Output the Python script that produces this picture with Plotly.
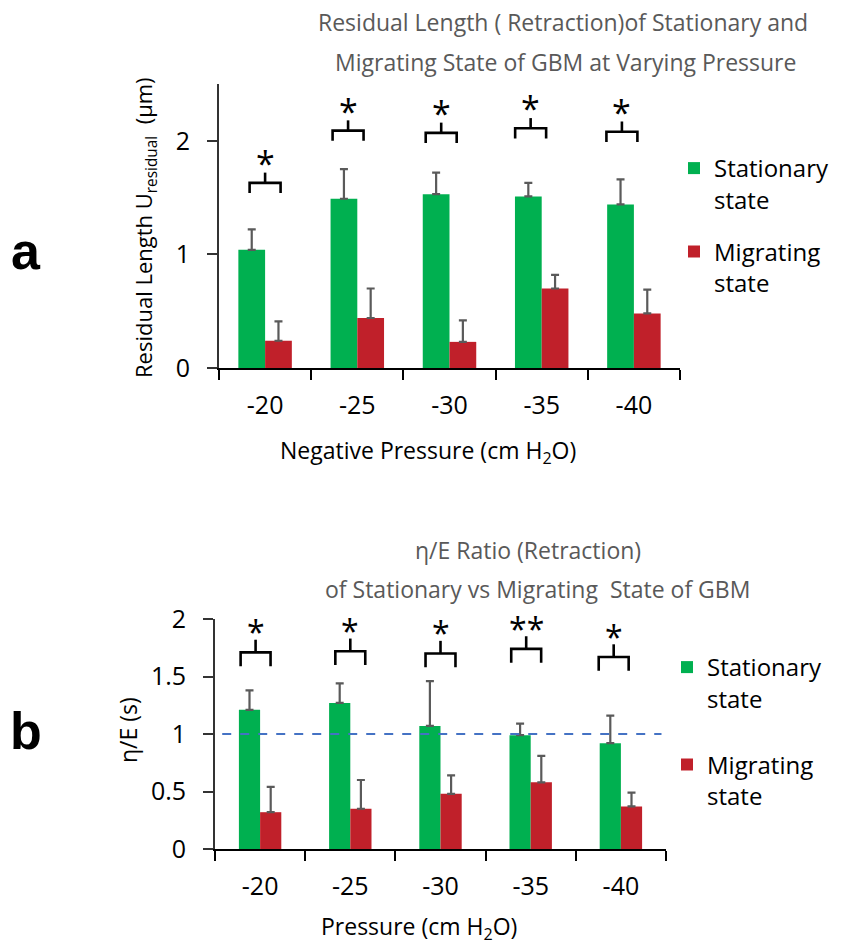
import plotly.graph_objects as go

# ---------------- data ----------------
pressures = ["-20", "-25", "-30", "-35", "-40"]

# panel a: residual length (um)
a_stat = [1.04, 1.49, 1.53, 1.51, 1.44]
a_stat_err = [0.18, 0.26, 0.19, 0.12, 0.22]
a_mig = [0.24, 0.44, 0.23, 0.70, 0.48]
a_mig_err = [0.17, 0.26, 0.19, 0.12, 0.21]
a_sig = ["*", "*", "*", "*", "*"]
a_sig_level = [1.63, 2.09, 2.07, 2.11, 2.08]
a_sig_shift = [0.0, -0.10, -0.09, -0.12, -0.13]

# panel b: eta/E ratio (s)
b_stat = [1.21, 1.27, 1.07, 0.99, 0.92]
b_stat_err = [0.17, 0.17, 0.39, 0.10, 0.24]
b_mig = [0.32, 0.35, 0.48, 0.58, 0.37]
b_mig_err = [0.22, 0.25, 0.16, 0.23, 0.12]
b_sig = ["*", "*", "*", "**", "*"]
b_sig_level = [1.71, 1.72, 1.70, 1.74, 1.67]
b_sig_shift = [-0.05, 0.0, 0.0, -0.05, -0.08]
b_ref = 1.0

GREEN = "#00B050"
RED = "#C0202A"
ERR = "#5A5A5A"
FONT = "Open Sans"

xs = list(range(len(pressures)))

fig = go.Figure()


def add_bars(vals, errs, name, color, xa, ya, width, offset, legend):
    fig.add_trace(go.Bar(
        x=xs, y=vals, name=name, marker=dict(color=color, line=dict(width=0)),
        width=width, offset=offset, xaxis=xa, yaxis=ya,
        legend=legend, legendgroup=legend + name,
        error_y=dict(type="data", symmetric=False, array=errs,
                     arrayminus=[0] * len(errs), color=ERR, thickness=2.2, width=4),
    ))


wa, wb = 0.29, 0.235
add_bars(a_stat, a_stat_err, "Stationary<br>state", GREEN, "x", "y", wa, -wa, "legend")
add_bars(a_mig, a_mig_err, "Migrating<br>state", RED, "x", "y", wa, 0, "legend")
add_bars(b_stat, b_stat_err, "Stationary<br>state", GREEN, "x2", "y2", wb, -wb, "legend2")
add_bars(b_mig, b_mig_err, "Migrating<br>state", RED, "x2", "y2", wb, 0, "legend2")

shapes = []
annos = []


def brackets(levels, shifts, sigs, xr, yr, half, leg, stem, star_gap, star_size):
    for i, (lv, sh, s) in enumerate(zip(levels, shifts, sigs)):
        c = xs[i] + sh
        path = f"M {c-half},{lv-leg} L {c-half},{lv} L {c+half},{lv} L {c+half},{lv-leg}"
        shapes.append(dict(type="path", path=path, xref=xr, yref=yr,
                           line=dict(color="black", width=2.6)))
        shapes.append(dict(type="line", x0=c, x1=c, y0=lv, y1=lv + stem, xref=xr, yref=yr,
                           line=dict(color="black", width=2.6)))
        annos.append(dict(x=c, y=lv + stem + star_gap, xref=xr, yref=yr, text=s,
                          showarrow=False, yanchor="middle",
                          font=dict(family=FONT, size=star_size, color="black")))


brackets(a_sig_level, a_sig_shift, a_sig, "x", "y", 0.168, 0.09, 0.09, 0.085, 34)
brackets(b_sig_level, b_sig_shift, b_sig, "x2", "y2", 0.166, 0.12, 0.11, 0.07, 32)

shapes.append(dict(type="line", x0=-0.42, x1=4.45, y0=b_ref, y1=b_ref, xref="x2", yref="y2",
                   line=dict(color="#4472C4", width=2.2, dash="dash")))

W, H = 841, 947


def px(xp):
    return xp / W


def py(yp):
    return 1 - yp / H


def text(x, y, t, size, color="#000000", family=FONT, **kw):
    annos.append(dict(x=px(x), y=py(y), xref="paper", yref="paper", text=t,
                      showarrow=False, font=dict(family=family, size=size, color=color),
                      xanchor="center", yanchor="middle", **kw))


GREY = "#595959"
text(563, 22, "Residual Length ( Retraction)of Stationary and", 23, GREY)
text(565, 62, "Migrating State of GBM at Varying Pressure", 23, GREY)
text(528, 550, "η/E Ratio (Retraction)", 23, GREY)
text(537, 589, "of Stationary vs Migrating  State of GBM", 23, GREY)
text(428, 451, "Negative Pressure (cm H<sub>2</sub>O)", 23)
text(419, 927, "Pressure (cm H<sub>2</sub>O)", 23)
text(145, 228, "Residual Length U<sub>residual</sub>  (μm)", 22, textangle=-90)
text(128, 730, "η/E (s)", 23, textangle=-90)
text(26, 251, "<b>a</b>", 52, family="Liberation Sans")
text(26, 731, "<b>b</b>", 52, family="Liberation Sans")

tickfont = dict(family=FONT, size=25, color="black")

xcommon = dict(tickmode="array", tickvals=xs, ticktext=pressures, ticks="",
               showline=True, linecolor="black", linewidth=2.2, showgrid=False,
               zeroline=False, range=[-0.5, 4.5], tickfont=tickfont, ticklabelstandoff=14,
               automargin=False,
               minor=dict(ticks="outside", tick0=-0.5, dtick=1, ticklen=10,
                          tickcolor="black", tickwidth=2, showgrid=False))
ycommon = dict(showline=True, linecolor="#333333", linewidth=1.8, showgrid=False,
               zeroline=False, ticks="outside", ticklen=10, tickcolor="#333333",
               tickwidth=1.8, tickfont=tickfont, ticklabelstandoff=12, automargin=False)

fig.update_layout(
    template="none",
    width=W, height=H, margin=dict(l=0, r=0, t=0, b=0, pad=0, autoexpand=False),
    paper_bgcolor="white", plot_bgcolor="white",
    barmode="overlay",
    xaxis=dict(domain=[px(219), px(680)], anchor="y", **xcommon),
    yaxis=dict(domain=[py(368), py(84)], anchor="x", range=[0, 2.5],
               tickvals=[0, 1, 2], **ycommon),
    xaxis2=dict(domain=[px(215), px(666)], anchor="y2", **xcommon),
    yaxis2=dict(domain=[py(849), py(619)], anchor="x2", range=[0, 2],
                tickvals=[0, 0.5, 1, 1.5, 2], **ycommon),
    legend=dict(x=px(674), y=py(146), xanchor="left", yanchor="top",
                font=dict(family=FONT, size=24, color="black"),
                tracegroupgap=18, valign="top", bgcolor="rgba(0,0,0,0)"),
    legend2=dict(x=px(667), y=py(645), xanchor="left", yanchor="top",
                 font=dict(family=FONT, size=24, color="black"),
                 tracegroupgap=32, valign="top", bgcolor="rgba(0,0,0,0)"),
    shapes=shapes, annotations=annos,
)

fig.write_html("out.html")
